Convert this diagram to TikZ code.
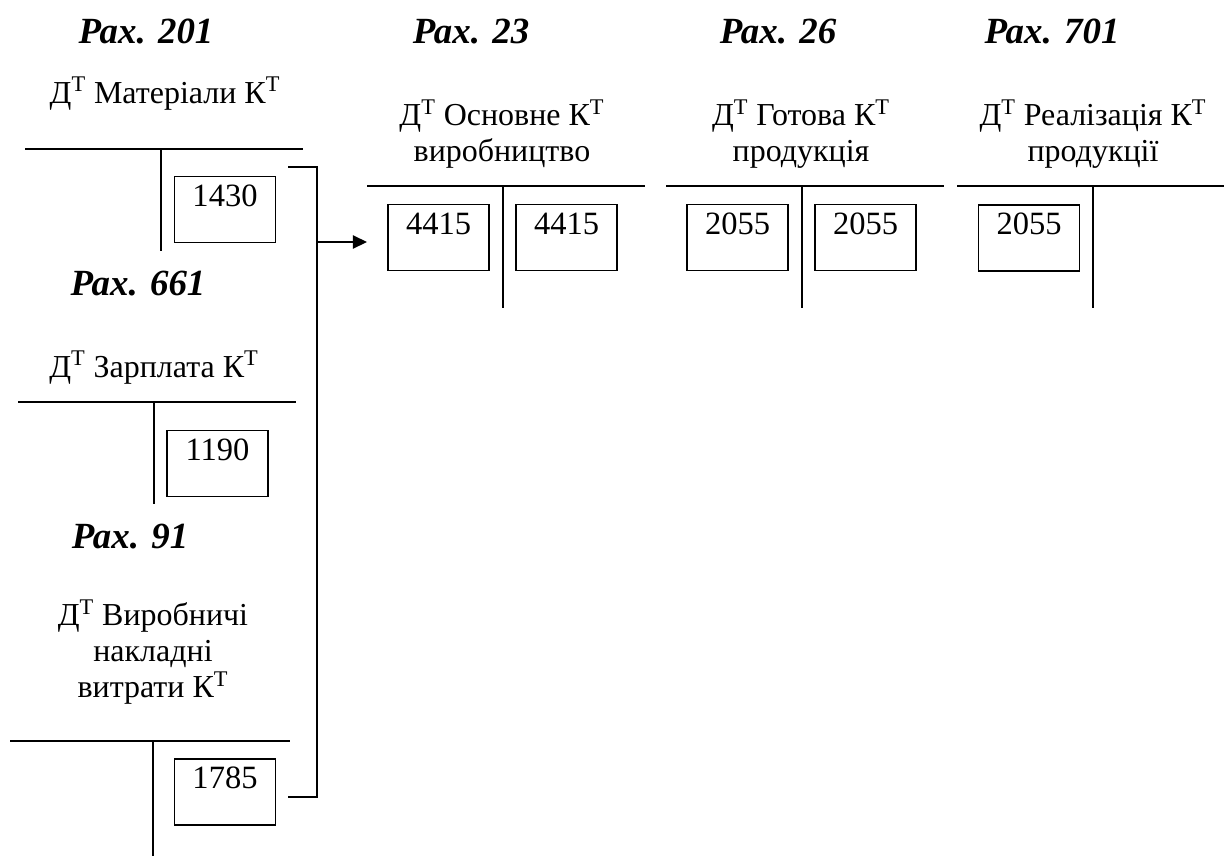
\documentclass[tikz,border=0pt]{standalone}
\usepackage{fontspec}
\setmainfont{Liberation Serif}
\usetikzlibrary{positioning, arrows.meta, calc}

\tikzset{
  acctitle/.style={font=\fontsize{18.2}{20.3}\selectfont, align=center, inner sep=0pt},
  raxlabel/.style={font=\fontsize{21}{25}\selectfont\bfseries\itshape, anchor=base, inner sep=0pt},
  numbox/.style={draw, line width=0.9pt, minimum width=2.02cm, minimum height=1.32cm, inner sep=0pt},
  numtext/.style={font=\fontsize{18.5}{21}\selectfont, anchor=north, inner sep=0pt, yshift=-0.17cm},
  tline/.style={line width=0.9pt}
}
\newcommand{\DT}{Д\textsuperscript{T}}
\newcommand{\KT}{К\textsuperscript{T}}

\begin{document}
\begin{tikzpicture}[x=0.02cm, y=-0.02cm]
  \useasboundingbox (0,0) rectangle (1224,856);
  % account numbers
  \node[raxlabel] (r201) at (146,43) {Рах. 201};
  \node[raxlabel] (r23) at (471,43) {Рах. 23};
  \node[raxlabel] (r26) at (778,43) {Рах. 26};
  \node[raxlabel] (r701) at (1052,43) {Рах. 701};
  \node[raxlabel] (r661) at (138,295) {Рах. 661};
  \node[raxlabel] (r91) at (130,548) {Рах. 91};

  % Materials (201)
  \node[acctitle, anchor=base] (t201) at (165,103) {\DT{} Матеріали \KT};
  \draw[tline] (25,149) -- (303,149);
  \draw[tline] (161,149) -- (161,251);
  \node[numbox, label={[numtext]north:1430}] (b1430) at (225,209.5) {};

  % Wages (661)
  \node[acctitle, anchor=base] (t661) at (154,377) {\DT{} Зарплата \KT};
  \draw[tline] (18,402) -- (296,402);
  \draw[tline] (154,402) -- (154,504);
  \node[numbox, label={[numtext]north:1190}] (b1190) at (217.5,463.5) {};

  % Overheads (91)
  \node[acctitle] (t91) at (153,652) {\DT{} Виробничі\\накладні\\витрати \KT};
  \draw[tline] (10,741) -- (290,741);
  \draw[tline] (153,741) -- (153,856);
  \node[numbox, label={[numtext]north:1785}] (b1785) at (225,792) {};

  % Production (23)
  \node[acctitle] (t23) at (502,134) {\DT{} Основне \KT\\виробництво};
  \draw[tline] (367,186) -- (645,186);
  \draw[tline] (503,186) -- (503,308);
  \node[numbox, label={[numtext]north:4415}] (b4415d) at (438.5,237.5) {};
  \node[numbox, label={[numtext]north:4415}] (b4415k) at (566.5,237.5) {};

  % Finished goods (26)
  \node[acctitle] (t26) at (801,134) {\DT{} Готова \KT\\продукція};
  \draw[tline] (666,186) -- (944,186);
  \draw[tline] (802,186) -- (802,308);
  \node[numbox, label={[numtext]north:2055}] (b2055d) at (737.5,237.5) {};
  \node[numbox, label={[numtext]north:2055}] (b2055k) at (865.5,237.5) {};

  % Sales (701)
  \node[acctitle] (t701) at (1093,134) {\DT{} Реалізація \KT\\продукції};
  \draw[tline] (957,186) -- (1224,186);
  \draw[tline] (1093,186) -- (1093,308);
  \node[numbox, label={[numtext]north:2055}] (b2055s) at (1029,238) {};

  % bracket and arrow
  \coordinate (brtop) at (288,167);
  \coordinate (brbot) at (288,797);
  \coordinate (brjoin) at (317,242);
  \coordinate (brtip) at (367,242);
  \draw[tline] (brtop) -| (brjoin) |- (brbot);
  \draw[tline, -{Triangle[length=8pt, width=7.5pt]}] (brjoin) -- (brtip);
\end{tikzpicture}
\end{document}
